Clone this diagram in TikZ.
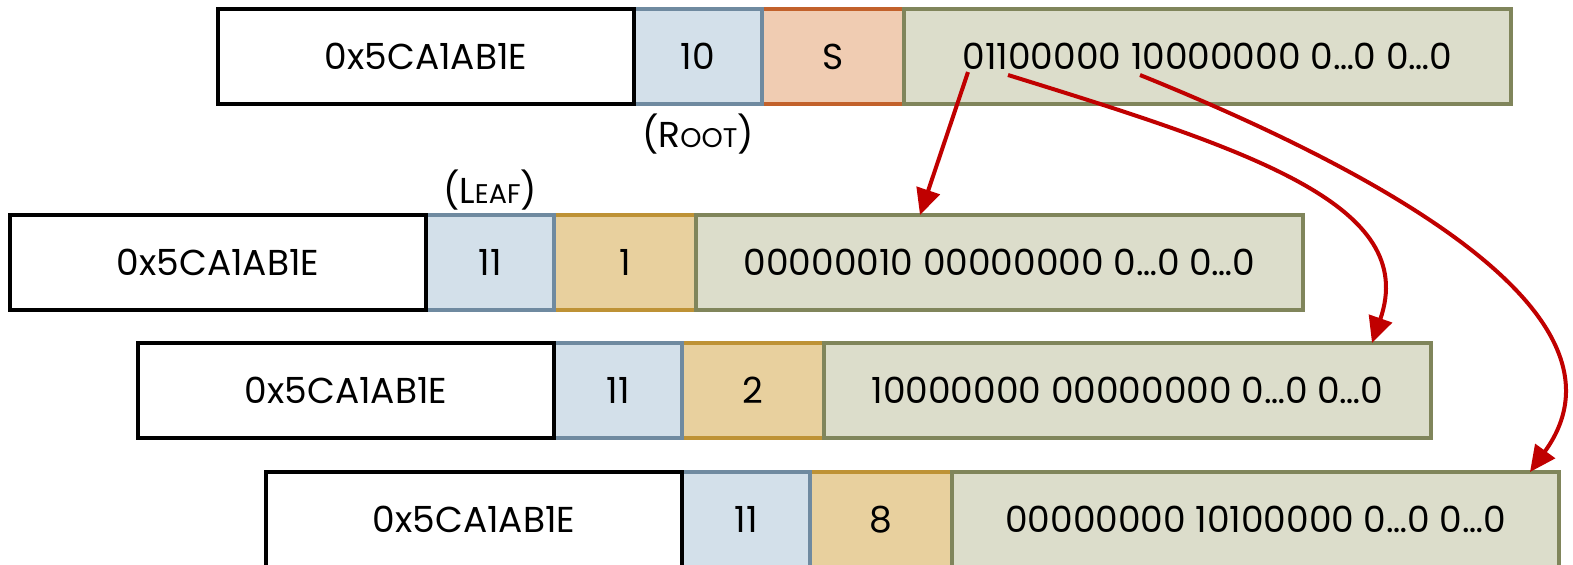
\documentclass[tikz,border=0pt]{standalone}
\usepackage{fontspec}
\setmainfont{Poppins}
\usetikzlibrary{arrows.meta,calc}

\definecolor{lvlfill}{HTML}{D3E0EA}
\definecolor{lvlline}{HTML}{6F8AA0}
\definecolor{rootfill}{HTML}{F0CCB2}
\definecolor{rootline}{HTML}{C2612B}
\definecolor{idxfill}{HTML}{E8D09E}
\definecolor{idxline}{HTML}{BE9235}
\definecolor{bitfill}{HTML}{DCDDCB}
\definecolor{bitline}{HTML}{80855B}
\definecolor{ptr}{HTML}{C00000}

% fake small capitals for the node-kind labels
\newcommand\capsmall[1]{{\fontsize{13.5}{13.5}\selectfont #1}}

% one table entry: address | level | slot | bitmap
% #1 name prefix, #2 x, #3 y (top), #4 level, #5 slot colour, #6 slot text, #7 bitmap
\newcommand\slotrow[7]{%
  \node[seg, fill=#5fill, draw=#5line, minimum width=71pt] (#1s) at (#2+544,#3) {#6};
  \node[seg, fill=lvlfill, draw=lvlline, minimum width=64pt] (#1l) at (#2+416,#3) {#4};
  \node[seg, fill=bitfill, draw=bitline, minimum width=303.5pt] (#1b) at (#2+686,#3) {#7};
  \node[seg, fill=white, draw=black, minimum width=208pt] (#1a) at (#2,#3) {0x5CA1AB1E};
}

\tikzset{
  seg/.style={line width=2pt, minimum height=47.5pt, inner sep=0pt, outer sep=0pt,
    anchor=north west, font=\fontsize{18}{18}\selectfont},
  kind/.style={inner sep=0pt, font=\fontsize{18}{18}\selectfont},
  pointer/.style={draw=ptr, line width=2pt, -{Triangle[length=13pt,width=12pt]}}
}

\begin{document}
\begin{tikzpicture}[x=0.5pt,y=-0.5pt]
  \useasboundingbox (0,0) rectangle (1573,564);
  \clip (0,0) rectangle (1573,564);

  \slotrow{r1}{218}{9}{10}{root}{S}{01100000 10000000 0…0 0…0}
  \slotrow{r2}{10}{215}{11}{idx}{1}{00000010 00000000 0…0 0…0}
  \slotrow{r3}{138}{343}{11}{idx}{2}{10000000 00000000 0…0 0…0}
  \slotrow{r4}{266}{472}{11}{idx}{8}{00000000 10100000 0…0 0…0}

  \node[kind] (rootlbl) at ($(r1l.south)+(0,30)$) {(R\capsmall{OOT})};
  \node[kind] (leaflbl) at ($(r2l.north)+(0,-25)$) {(L\capsmall{EAF})};

  % bit positions in the root bitmap and the children they point to
  \coordinate (b1) at ($(r1b.north west)+(64,63)$);
  \coordinate (b2) at ($(r1b.north west)+(104,66)$);
  \coordinate (b8) at ($(r1b.north west)+(236,66)$);
  \coordinate (c1) at ($(r2b.north west)+(224,0)$);
  \coordinate (c2) at ($(r3b.north west)+(548,0)$);
  \coordinate (c8) at ($(r4b.north west)+(578,0)$);

  \draw[pointer] (b1) -- (c1);
  \draw[pointer] (b2) .. controls (1250,150) and (1420,205) .. (c2);
  \draw[pointer] (b8) .. controls (1400,180) and (1640,320) .. (c8);
\end{tikzpicture}
\end{document}
